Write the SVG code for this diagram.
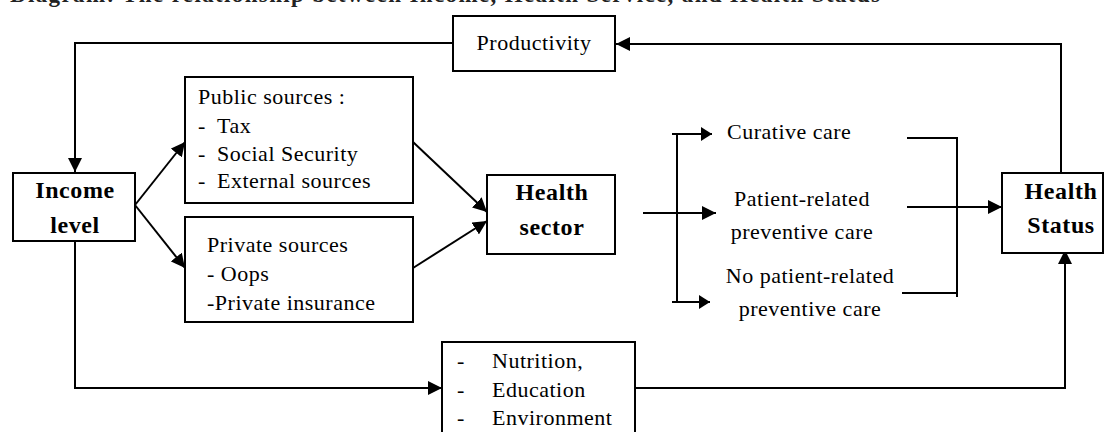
<svg xmlns="http://www.w3.org/2000/svg" width="1105" height="432" viewBox="0 0 1105 432">
  <style>
    .box { fill: #ffffff; stroke: #000000; stroke-width: 2; }
    .ln { fill: none; stroke: #000000; stroke-width: 2; }
    .t { font-family: "Liberation Serif", "Times New Roman", serif; font-size: 22px; fill: #000000; letter-spacing: 0.5px; }
    .b { font-family: "Liberation Serif", "Times New Roman", serif; font-size: 24px; font-weight: bold; fill: #000000; letter-spacing: 0.6px; }
    .c { text-anchor: middle; }
    .title { font-family: "Liberation Serif", "Times New Roman", serif; font-size: 23px; font-weight: bold; fill: #222222; }
  </style>
  <defs>
    <marker id="ah" markerUnits="userSpaceOnUse" markerWidth="15" markerHeight="14" refX="14" refY="7" orient="auto">
      <path d="M0,0 L14,7 L0,14 Z" fill="#000000"/>
    </marker>
    <marker id="ahs" markerUnits="userSpaceOnUse" markerWidth="12" markerHeight="14" refX="11" refY="7" orient="auto">
      <path d="M0,0 L11,7 L0,14 Z" fill="#000000"/>
    </marker>
  </defs>
  <rect x="0" y="0" width="1105" height="432" fill="#ffffff"/>

  <text class="title" x="10" y="1.5" textLength="870" lengthAdjust="spacing">Diagram: The relationship between Income, Health Service, and Health Status</text>

  <g id="connectors">
    <!-- Productivity to Income level -->
    <polyline class="ln" points="453,43 75,43 75,172" marker-end="url(#ah)"/>
    <!-- Health Status to Productivity -->
    <polyline class="ln" points="1061,173 1061,44 616,44" marker-end="url(#ah)"/>
    <!-- Income to sources -->
    <line class="ln" x1="135" y1="205" x2="185" y2="142" marker-end="url(#ah)"/>
    <line class="ln" x1="135" y1="205" x2="185" y2="268" marker-end="url(#ah)"/>
    <!-- sources to Health sector -->
    <line class="ln" x1="413" y1="142" x2="487" y2="212" marker-end="url(#ah)"/>
    <line class="ln" x1="413" y1="268" x2="487" y2="221" marker-end="url(#ah)"/>
    <!-- Health sector to care types -->
    <line class="ln" x1="643" y1="213" x2="716" y2="213" marker-end="url(#ah)"/>
    <line class="ln" x1="677" y1="134" x2="677" y2="302"/>
    <line class="ln" x1="672" y1="134" x2="712" y2="134" marker-end="url(#ahs)"/>
    <line class="ln" x1="672" y1="302" x2="710" y2="302" marker-end="url(#ahs)"/>
    <!-- care types bracket to Health Status -->
    <polyline class="ln" points="907,138 957,138 957,297"/>
    <line class="ln" x1="902" y1="293" x2="957" y2="293"/>
    <line class="ln" x1="907" y1="207" x2="1002" y2="207" marker-end="url(#ah)"/>
    <!-- Income to Nutrition -->
    <polyline class="ln" points="75,241 75,388 442,388" marker-end="url(#ah)"/>
    <!-- Nutrition to Health Status -->
    <polyline class="ln" points="635,388 1065,388 1065,250" marker-end="url(#ah)"/>
  </g>

  <g id="productivity">
    <rect class="box" x="453" y="16" width="162" height="55"/>
    <text class="t c" x="534" y="50">Productivity</text>
  </g>

  <g id="income-level">
    <rect class="box" x="13" y="173" width="122" height="68"/>
    <text class="b c" x="75" y="198">Income</text>
    <text class="b c" x="75" y="233">level</text>
  </g>

  <g id="public-sources">
    <rect class="box" x="185" y="77" width="228" height="126"/>
    <text class="t" x="198" y="104">Public sources :</text>
    <text class="t" x="198" y="133">-</text>
    <text class="t" x="217" y="133">Tax</text>
    <text class="t" x="198" y="161">-</text>
    <text class="t" x="217" y="161">Social Security</text>
    <text class="t" x="198" y="188">-</text>
    <text class="t" x="217" y="188">External sources</text>
  </g>

  <g id="private-sources">
    <rect class="box" x="185" y="217" width="228" height="105"/>
    <text class="t" x="207" y="252">Private sources</text>
    <text class="t" x="207" y="281">- Oops</text>
    <text class="t" x="207" y="310">-Private insurance</text>
  </g>

  <g id="health-sector">
    <rect class="box" x="487" y="175" width="128" height="79"/>
    <text class="b c" x="552" y="200">Health</text>
    <text class="b c" x="552" y="235">sector</text>
  </g>

  <g id="curative-care">
    <text class="t" x="727" y="139">Curative care</text>
  </g>

  <g id="patient-related">
    <text class="t c" x="802" y="206">Patient-related</text>
    <text class="t c" x="802" y="239">preventive care</text>
  </g>

  <g id="no-patient-related">
    <text class="t c" x="810" y="283">No patient-related</text>
    <text class="t c" x="810" y="316">preventive care</text>
  </g>

  <g id="health-status">
    <rect class="box" x="1002" y="173" width="101" height="80"/>
    <text class="b c" x="1061" y="199">Health</text>
    <text class="b c" x="1061" y="233">Status</text>
  </g>

  <g id="nutrition">
    <rect class="box" x="442" y="342" width="193" height="100"/>
    <text class="t" x="457" y="368">-</text>
    <text class="t" x="492" y="368">Nutrition,</text>
    <text class="t" x="457" y="397">-</text>
    <text class="t" x="492" y="397">Education</text>
    <text class="t" x="457" y="425">-</text>
    <text class="t" x="492" y="425">Environment</text>
  </g>
</svg>
